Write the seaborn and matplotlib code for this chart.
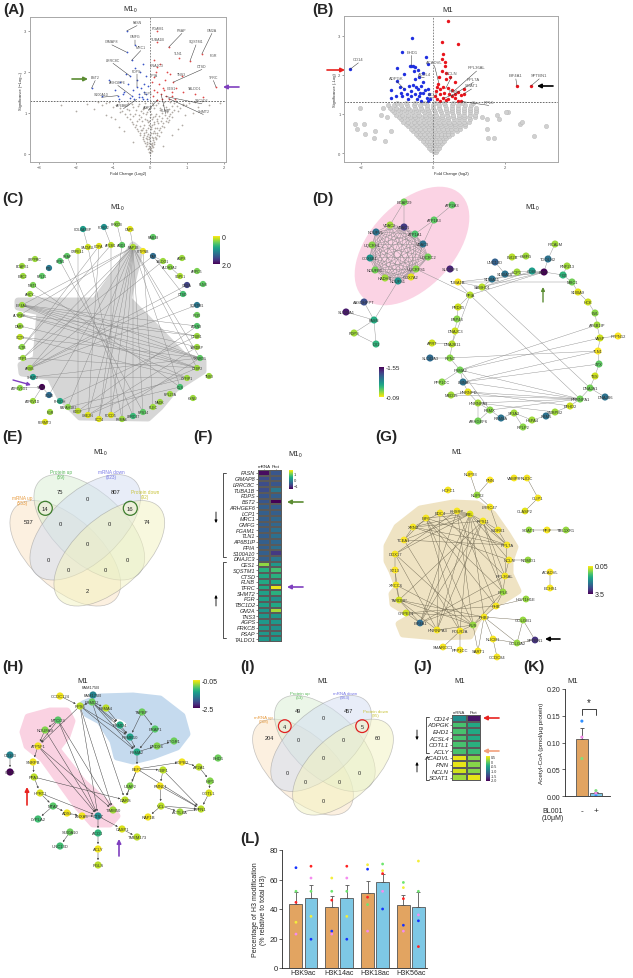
import numpy as np
import pandas as pd
import matplotlib.pyplot as plt
from matplotlib.patches import Ellipse, Polygon, Circle
from matplotlib.cm import ScalarMappable
from matplotlib.colors import Normalize
import itertools
import seaborn as sns

sns.set_theme(style='ticks')
plt.rcParams['font.family'] = ['Liberation Sans', 'DejaVu Sans']
plt.rcParams['axes.linewidth'] = 0.6

W, H = 633, 979

# ---------------- (A) volcano M1_0 ----------------
a_gray = [(0.01,0.02),(-0.03,0.05),(0.04,0.08),(-0.06,0.11),(0.02,0.13),(0.08,0.16),(-0.1,0.18),(-0.02,0.2),(0.05,0.22),(0.12,0.25),
          (-0.14,0.27),(-0.07,0.29),(0.0,0.31),(0.09,0.33),(0.17,0.35),(-0.2,0.36),(-0.12,0.38),(0.04,0.4),(0.13,0.42),(0.23,0.43),
          (-0.26,0.45),(-0.17,0.47),(-0.05,0.49),(0.07,0.5),(0.19,0.52),(0.3,0.54),(-0.33,0.55),(-0.22,0.57),(-0.1,0.59),(0.02,0.6),
          (0.14,0.62),(0.26,0.63),(0.39,0.65),(-0.41,0.66),(-0.28,0.68),(-0.15,0.7),(-0.03,0.71),(0.1,0.72),(0.22,0.74),(0.35,0.75),
          (0.48,0.77),(-0.5,0.78),(-0.36,0.8),(-0.21,0.81),(-0.07,0.83),(0.06,0.84),(0.19,0.86),(0.33,0.87),(0.47,0.88),(0.6,0.9),
          (-0.62,0.91),(-0.45,0.93),(-0.29,0.94),(-0.12,0.96),(0.03,0.97),(0.17,0.98),(0.31,1.0),(0.45,1.01),(0.6,1.02),(0.75,1.04),
          (-0.76,1.05),(-0.57,1.06),(-0.38,1.08),(-0.2,1.09),(-0.04,1.1),(0.12,1.12),(0.28,1.13),(0.43,1.14),(0.58,1.16),(0.74,1.17),
          (0.9,1.18),(-0.92,1.19),(-0.7,1.2),(-0.5,1.21),(-0.3,1.22),(-0.13,1.23),(0.05,1.24),(0.22,1.25),(0.39,1.26),(0.55,1.27),
          (0.71,1.28),(0.88,1.22),(1.05,1.25),(-1.1,1.26),(-0.85,1.27),(-1.3,1.2),(1.3,1.15),(-1.5,1.1),(-0.95,0.85),(0.85,0.7),
          (-0.7,0.55),(0.6,0.45),(-0.45,0.3),(0.35,0.2),(-0.03,0.35),(0.06,0.27),(-0.09,0.44),(0.1,0.56),(-0.18,0.64),(0.18,0.79),
          (-0.25,0.9),(0.26,1.06),(-0.33,1.16),(0.4,0.95),(-0.55,0.98),(0.52,0.83),(-1.2,0.95),(1.15,1.0),(-2.0,1.05),(1.6,1.2),
          (-0.01,0.15),(0.0,0.45),(0.03,0.66),(-0.06,0.77),(0.01,0.9),(-0.08,1.02),(0.09,1.19),(-0.16,1.13),(0.14,0.93),(-0.11,0.53),
          (0.0,0.04),(0.03,0.1),(-0.04,0.14),(0.06,0.19),(-0.07,0.23),(0.1,0.28),(-0.15,0.32),(0.15,0.38),(-0.2,0.41),(0.2,0.47),
          (-0.28,0.5),(0.25,0.58),(-0.35,0.61),(0.32,0.68),(-0.45,0.72),(0.42,0.8),(-0.55,0.84),(0.5,0.93),(-0.68,0.97),(0.66,1.08),
          (-0.82,1.12),(0.8,1.12),(-1.0,1.15),(0.98,1.2),(-1.18,1.24),(1.2,1.27),(-1.4,1.27),(-0.6,1.25),(-0.45,1.15),(-0.25,1.05),
          (-0.1,1.15),(0.0,1.05),(0.15,1.2),(0.35,1.2),(0.5,1.1),(0.65,1.23),(-0.8,1.02),(-0.62,1.1),(-0.4,0.98),(-0.18,0.99),
          (0.08,0.9),(0.25,0.93),(0.4,1.07),(0.55,0.98),(-0.05,0.63),(0.05,0.7),(-0.02,0.8),(0.12,0.77),(-0.14,0.86),(-0.3,0.85),
          (0.3,0.81),(-0.38,0.7),(0.2,0.64),(-0.25,0.58),(0.13,0.5),(-0.15,0.52),(0.08,0.38),(-0.08,0.36),(0.03,0.24),(-0.04,0.27),
          (0.02,0.5),(-0.02,0.42),(1.4,1.28),(-1.7,1.22),(-2.4,1.2),(1.9,1.25),(0.95,0.95),(-1.05,0.9),(0.75,0.6),(-0.85,0.65)]
a_down = [(-0.63,3.0),(-0.4,2.66),(-0.63,2.48),(-0.5,2.28),(-0.54,1.9),(-0.36,1.63),(-1.58,1.6),(-0.5,1.42),(-0.87,1.42),(-1.31,1.42),
          (-0.72,1.45),(-0.3,1.38),(-0.2,1.35),(-0.15,1.5),(-0.1,1.45),(-0.25,1.6),(-0.45,1.55),(-0.6,1.7),(-0.8,1.75),(-0.35,1.8),
          (-0.28,2.0),(-0.12,1.9),(-0.05,1.65),(-0.18,2.2),(-0.4,2.1),(-0.7,1.5),(-0.95,1.55),(-1.1,1.8),(-0.22,1.38),(-0.08,1.33),
          (-0.3,1.45),(-0.55,1.36),(-0.65,1.95),(-0.42,1.33),(-0.85,1.35),(-0.15,1.7)]
a_up = [(0.19,3.0),(0.18,2.73),(0.5,2.6),(1.4,2.44),(1.08,2.27),(0.77,2.35),(0.18,2.13),(0.63,1.75),(0.1,1.87),(0.85,1.9),
        (1.78,1.63),(0.58,1.52),(1.21,1.45),(0.42,1.4),(1.44,1.38),(0.2,1.32),(0.3,1.45),(0.12,1.55),(0.25,1.7),(0.4,1.8),
        (0.15,2.0),(0.35,1.6),(0.5,1.35),(0.6,1.42),(0.7,1.6),(0.08,1.4),(0.28,2.2),(0.45,2.0),(0.05,1.75),(0.2,1.5),
        (0.32,1.33),(0.55,1.95),(0.9,1.5),(0.1,2.3),(0.38,1.55),(0.68,1.35)]
a_labels = [('FASN',-0.35,3.17,-0.63,3.0),('PGAM1',0.2,3.02,0.19,3.0),('TUBA1B',0.22,2.75,0.18,2.73),('PSAP',0.86,2.98,0.5,2.6),
            ('GM2A',1.67,2.98,1.4,2.44),('GMFG',-0.4,2.83,-0.4,2.66),('GIMAP8',-1.03,2.7,-0.63,2.48),('SQSTM1',1.24,2.7,1.08,2.27),
            ('MRC1',-0.25,2.56,-0.5,2.28),('TLN1',0.77,2.42,0.77,2.42),('FGR',1.71,2.36,1.71,2.36),('LRRC8C',-1.0,2.25,-0.54,1.9),
            ('DNAJC3',0.18,2.13,0.18,2.13),('CTSD',1.4,2.1,0.63,1.75),('FDPS',-0.36,1.98,-0.36,1.63),('BST2',-1.48,1.83,-1.58,1.6),
            ('PPIA',0.1,1.87,0.1,1.87),('TNS3',0.85,1.9,0.85,1.9),('TFRC',1.71,1.83,1.78,1.63),('ARHGEF6',-0.87,1.71,-0.5,1.42),
            ('CES1',0.58,1.57,0.58,1.57),('TALDO1',1.21,1.55,1.21,1.55),('S100A10',-1.31,1.42,-0.87,1.42),('LCP1',-0.05,1.44,-0.05,1.44),
            ('TBC1D2',1.4,1.26,0.42,1.4),('AP6B1IP',-0.72,1.14,-0.36,1.33),('AGPS',-0.05,1.1,0.2,1.32),('FLNB',0.42,1.02,0.3,1.45),
            ('SHMT2',1.44,1.0,0.5,1.35)]

# ---------------- (B) volcano M1 ----------------
b_gray_levels = [0.03,0.08,0.14,0.2,0.26,0.32,0.38,0.44,0.5,0.56,0.62,0.68,0.74,0.8,0.86,0.92,0.98,1.04,1.1,1.16,1.22,1.27]
b_gray_xs = [[0.02,0.08],[-0.05,0.04,0.12],[-0.1,-0.01,0.07,0.16],[-0.16,-0.07,0.02,0.11,0.2],
             [-0.22,-0.12,-0.03,0.06,0.15,0.25],[-0.28,-0.18,-0.08,0.02,0.11,0.2,0.3,-1.33],
             [-0.35,-0.24,-0.13,-0.03,0.07,0.17,0.27,0.37,-1.63,1.53,1.69],[-0.41,-0.3,-0.19,-0.08,0.02,0.12,0.22,0.33,0.44,2.8],
             [-0.48,-0.36,-0.24,-0.12,-0.01,0.1,0.21,0.32,0.43,0.54,-1.89],
             [-0.55,-0.42,-0.3,-0.17,-0.05,0.06,0.18,0.3,0.42,0.54,0.66,-1.17,-1.61],
             [-0.6,-0.48,-0.35,-0.22,-0.1,0.02,0.14,0.27,0.39,0.51,0.63,0.76,1.5,-2.12],
             [-0.68,-0.55,-0.41,-0.28,-0.15,-0.02,0.1,0.23,0.36,0.49,0.62,0.75,0.88,3.13],
             [-0.76,-0.62,-0.48,-0.34,-0.2,-0.07,0.06,0.19,0.33,0.46,0.6,0.74,0.88,2.41,-1.91,-2.17],
             [-0.82,-0.68,-0.53,-0.39,-0.25,-0.11,0.03,0.17,0.31,0.45,0.59,0.73,0.87,1.01,2.47],
             [-0.88,-0.73,-0.58,-0.44,-0.29,-0.15,0.0,0.14,0.29,0.43,0.58,0.72,0.87,1.02,1.83,1.5],
             [-0.95,-0.8,-0.64,-0.49,-0.34,-0.19,-0.04,0.11,0.26,0.41,0.56,0.71,0.86,1.01,1.16,-1.29,1.36],
             [-1.02,-0.86,-0.7,-0.54,-0.38,-0.22,-0.07,0.09,0.24,0.4,0.55,0.71,0.86,1.02,1.18,-1.43,1.77],
             [-1.08,-0.91,-0.75,-0.59,-0.42,-0.26,-0.1,0.06,0.22,0.38,0.54,0.7,0.86,1.02,1.19,2.08,2.02],
             [-1.14,-0.97,-0.8,-0.63,-0.46,-0.3,-0.13,0.04,0.2,0.37,0.53,0.7,0.87,1.04,1.2],
             [-1.2,-1.03,-0.85,-0.68,-0.5,-0.33,-0.16,0.01,0.18,0.35,0.52,0.69,0.86,1.03,1.2,-2.03,-1.38],
             [-1.25,-1.07,-0.89,-0.71,-0.53,-0.36,-0.18,0.0,0.17,0.34,0.52,0.7,0.88,1.05],
             [-1.0,-0.75,-0.5,-0.25,0.05,0.3,0.55,0.8,1.1]]
b_down = [(-2.31,2.14),(-0.57,2.94),(-0.85,2.58),(-0.6,2.24),(-0.55,2.22),(-0.5,2.2),(-0.65,2.23),(-0.53,2.11),(-0.99,2.17),(-0.42,2.12),
          (-0.28,2.06),(-0.2,2.45),(-0.15,2.28),(-0.8,2.02),(-0.4,1.96),(-0.99,1.85),(-1.16,1.62),(-0.92,1.68),(-0.8,1.64),(-0.88,1.54),
          (-1.04,1.47),(-1.17,1.4),(-0.66,1.71),(-0.6,1.6),(-0.5,1.51),(-0.41,1.64),(-0.33,1.71),(-0.27,1.55),(-0.17,1.42),(-0.45,1.38),
          (-0.32,1.34),(-0.15,1.34),(-0.28,1.83),(-0.15,1.65),(-0.5,1.89),(-0.69,1.38),(-0.1,1.51),(-0.72,1.5),(-0.38,1.45),(-0.55,1.75),
          (-0.22,1.62),(-0.62,1.45),(-0.08,1.38),(-0.36,1.55),(-0.47,1.7),(-0.85,1.45)]
b_up = [(0.43,3.37),(0.24,2.85),(0.7,2.79),(0.28,2.53),(0.25,2.41),(0.33,2.32),(0.32,2.24),(0.25,2.11),(0.37,2.06),(0.16,1.94),
        (0.35,1.9),(0.47,1.96),(0.6,1.81),(0.1,1.68),(0.19,1.64),(0.08,1.6),(0.28,1.7),(0.42,1.67),(0.52,1.62),(0.6,1.52),
        (0.7,1.56),(0.78,1.48),(0.86,1.65),(0.86,1.52),(0.2,1.5),(0.29,1.42),(0.12,1.38),(0.42,1.38),(0.52,1.45),(0.2,1.33),
        (0.36,1.35),(0.6,1.4),(0.7,1.33),(0.78,1.33),(2.33,1.72),(2.72,1.72),(0.05,1.45),(0.15,1.78),(0.45,1.5),(0.3,1.55)]
b_labels = [('CD14',-2.07,2.35,-2.31,2.14),('EHD1',-0.59,2.54,-0.6,2.24),('ACADVL',0.04,2.28,0.16,1.8),('ACSL4',-0.24,1.97,-0.4,1.96),
            ('NCLN',0.52,2.0,0.35,1.65),('RPL36AL',1.21,2.14,0.6,1.6),('RPL7A',1.12,1.85,0.5,1.45),('SOAT1',1.07,1.68,0.86,1.52),
            ('ADPGK',-1.01,1.88,-0.8,1.64),('ACLY',0.0,1.45,-0.1,1.42),('PNN',0.56,1.54,0.3,1.4),('EIF4A1',2.3,1.94,2.33,1.72),
            ('SPTBN1',2.95,1.94,2.72,1.72),('RPL6',1.55,1.26,0.8,1.32)]

# ---------------- (C) network M1_0 ----------------
c_names = ['COL4A3BP','FCHO2','PRKCB','CAPG','GRPEL1','SACM1L','COPA','AP2M1','ADD1','RAP1B','PITPNB','RAB18','DAT','TALDO1',
           'AGPS','ALDH3A2','ARPC5','SGPL1','FLNB','GM2A','CTSD','SQSTM1','IFI35','ATXN3','OTUB1','TARDBP','TXNRD1','CTBP2',
           'TNS3','CYFIP1','GLS','KYNU','RPL23A','NADK','PLEC','RPS14','LRRC47','PSMA6','PDCD5','CCT4','UBE2N','HDGF',
           'PAFAH1B2','FGR','FERMT3','PHGDH','CD40','TFRC','ATP6V1D','ATP6V1G1','SHMT2','ARSB','STIP1','CLTB','CCT3','DARS',
           'ALYREF','EIF4A1','AHCY','NMT1','EMC2','RPL11','BCAP31','LRPPRC','FTL','RPN1','PSAP']
c_x = [83,104,117,130,78,88,99,111,122,133,143,153,153,163,182,170,197,180,203,187,183,197,197,197,197,197,200,197,
       209,187,180,193,170,160,153,143,133,122,111,99,88,78,68,50,45,60,49,42,33,20,33,30,23,22,20,20,20,22,30,33,23,42,22,35,49,60,67]
c_y = [230,228,225,230,252,248,247,246,246,248,252,238,257,262,259,268,272,277,285,286,295,306,316,327,337,348,359,369,
       377,379,388,399,395,403,408,413,417,420,416,420,416,412,408,413,423,402,396,388,402,389,378,369,359,348,338,327,
       316,306,295,286,277,277,267,260,269,262,257]
c_val = [0.9,1.0,0.35,0.1,0.2,0.15,0.1,0.2,0.5,0.25,0.05,0.5,1.3,0.3,0.3,0.35,0.4,0.25,0.5,1.6,0.6,1.2,0.45,0.55,0.3,0.3,0.5,0.3,
         0.3,0.3,0.6,0.3,0.3,0.3,0.3,0.5,0.65,0.3,0.1,0.1,0.1,0.2,0.35,0.3,0.1,0.8,1.3,2.0,0.3,0.35,0.9,0.3,0.3,0.35,0.2,0.3,
         0.3,0.3,0.3,0.4,0.3,0.5,0.3,0.3,1.2,0.55,0.5]
c_edges = [('RAP1B','EIF4A1'),('RAP1B','ALYREF'),('RAP1B','ARSB'),('RAP1B','STIP1'),('RAP1B','PSMA6'),('RAP1B','PDCD5'),
           ('RAP1B','CCT4'),('RAP1B','LRRC47'),('RAP1B','UBE2N'),('RAP1B','CTBP2'),('RAP1B','TXNRD1'),('RAP1B','GLS'),
           ('RAP1B','CD40'),('RAP1B','PAFAH1B2'),('RAP1B','RPS14'),('PITPNB','PLEC'),('DAT','CTSD'),('EIF4A1','TXNRD1'),
           ('EIF4A1','CTBP2'),('EIF4A1','OTUB1'),('EIF4A1','TARDBP'),('EIF4A1','CYFIP1'),('ALYREF','CTBP2'),('ALYREF','TXNRD1'),
           ('DARS','CTBP2'),('CCT3','TXNRD1'),('CCT3','CYFIP1'),('ARSB','GM2A'),('ARSB','CTSD'),('ARSB','SQSTM1'),
           ('ARSB','TALDO1'),('STIP1','CTBP2'),('STIP1','DAT'),('SHMT2','TXNRD1'),('SHMT2','CYFIP1'),('CLTB','AP2M1'),
           ('CLTB','COPA'),('NMT1','GLS'),('COPA','UBE2N'),('SACM1L','PSMA6'),('AP2M1','PDCD5'),('ADD1','CCT4'),
           ('GRPEL1','HDGF'),('PSAP','LRRC47'),('RPN1','RPS14'),('TFRC','ATP6V1D'),('TFRC','ATP6V1G1'),('TFRC','CD40'),
           ('CYFIP1','PAFAH1B2'),('GLS','HDGF'),('CTBP2','UBE2N'),('TXNRD1','PDCD5'),('ATXN3','HDGF'),('COL4A3BP','SACM1L'),
           ('FCHO2','AP2M1'),('PRKCB','ADD1'),('CAPG','RAP1B'),('OTUB1','PHGDH'),('TARDBP','UBE2N'),('SGPL1','ALDH3A2'),
           ('DAT','TALDO1'),('EIF4A1','ATXN3'),('AHCY','TXNRD1'),('ALYREF','OTUB1')]
c_hull = [(133,246),(140,252),(128,300),(185,358),(203,362),(203,372),(175,390),(160,408),(148,419),(80,418),(60,398),
          (50,378),(22,374),(21,366),(36,360),(40,313),(18,308),(18,302),(95,302),(118,270)]

# ---------------- (D) network M1_0 ----------------
d_names = ['BCAP29','ATP2A3','VDAC2','VDAC1','ATP1B3','NDUFV1','ATP1A1','UQCRHL','VDAC3','UQCRC2','COX6B1','SLC35F6',
           'NDUFB5','UQCRFS1','HADHB','COX7A2','NDUFS1','AASDHPPT','SLC25A1','FASN','FDPS','IDI1',
           'PICALM','TGOLN2','RNF213','EVI2B','GMFG','UNC13D','S100A10','LCP1','CD86','BST2','IFI35','MRC1','S100A11',
           'SAMHD1','TUBA1B','S100A9','HCK','EVL','AP6B1IP','PTPN12','VASP','TLN1','ZYX','TES','DNAJA1','DNAJB6',
           'HNRNPA1','EFHD2','SNRPB2','RBM5','HSPA4','RPLP2','SF3A2','RBM8A','RBMX','ARHGEF6','HNRNPA3','HNRNPD',
           'MED15','LMNA','PPP1CC','PSMA2','RPN2','SLC43A3','APRT','DNAJB11','DNAJC3','ERP44','PRDX5','PPIA']
d_x = [404,452,390,404,434,376,415,372,423,428,370,450,375,416,385,411,398,364,346,374,354,376,
       555,548,567,512,526,495,505,517,532,544,563,572,492,482,458,578,588,595,597,618,600,598,599,595,590,605,
       580,570,555,546,532,523,514,501,490,478,478,468,451,463,442,460,450,430,432,452,455,457,458,470]
d_y = [203,206,226,228,221,233,235,246,245,258,259,270,271,270,279,278,282,303,313,321,334,345,
       245,260,267,258,257,263,275,273,272,273,276,283,280,288,283,293,303,314,326,337,339,352,365,377,389,398,
       400,407,413,417,421,428,414,419,411,422,404,393,396,383,383,371,359,359,344,345,332,320,308,296]
d_val = [-0.4,-0.45,-0.3,-1.3,-0.45,-1.0,-0.5,-0.35,-1.0,-0.4,-0.8,-1.4,-0.4,-0.35,-0.3,-0.15,-0.8,-1.2,-1.45,-0.65,-0.3,-0.6,
         -0.3,-1.0,-0.3,-0.25,-0.3,-1.1,-1.0,-0.3,-0.75,-1.55,-0.6,-0.4,-1.0,-0.25,-0.1,-0.15,-0.2,-0.35,-0.3,-0.1,-0.2,-0.1,
         -0.45,-0.2,-0.4,-1.0,-0.4,-0.2,-0.3,-1.0,-0.3,-0.35,-0.3,-1.0,-0.35,-0.4,-0.3,-0.15,-0.3,-1.0,-0.35,-0.4,-0.35,-1.05,
         -0.2,-0.25,-0.2,-0.35,-0.2,-0.25]
d_core = ['VDAC2','VDAC1','NDUFV1','ATP1A1','UQCRHL','VDAC3','UQCRC2','COX6B1','NDUFB5','UQCRFS1','HADHB','COX7A2','NDUFS1']
d_edges = list(itertools.combinations(d_core, 2)) + [
    ('BCAP29','VDAC1'),('BCAP29','VDAC2'),('ATP2A3','ATP1B3'),('ATP1B3','ATP1A1'),('ATP1B3','VDAC3'),('UQCRFS1','PPIA'),
    ('NDUFS1','FASN'),('AASDHPPT','FASN'),('SLC25A1','FASN'),('FASN','FDPS'),('FDPS','IDI1'),('FASN','IDI1'),
    ('PICALM','TGOLN2'),('TGOLN2','BST2'),('EVI2B','GMFG'),('UNC13D','S100A10'),('S100A10','LCP1'),('LCP1','CD86'),
    ('CD86','BST2'),('BST2','IFI35'),('IFI35','MRC1'),('RNF213','IFI35'),('S100A11','SAMHD1'),('BST2','SAMHD1'),
    ('BST2','TUBA1B'),('BST2','PPIA'),('BST2','S100A11'),('CD86','SAMHD1'),('TUBA1B','PPIA'),('PPIA','PRDX5'),
    ('PRDX5','ERP44'),('ERP44','DNAJC3'),('DNAJC3','DNAJB11'),('DNAJB11','APRT'),('DNAJB11','RPN2'),('RPN2','SLC43A3'),
    ('RPN2','PSMA2'),('PSMA2','PPP1CC'),('PSMA2','LMNA'),('LMNA','HNRNPD'),('HNRNPD','MED15'),('HNRNPD','HNRNPA3'),
    ('HNRNPA3','RBMX'),('RBMX','RBM8A'),('RBM8A','SF3A2'),('SF3A2','HSPA4'),('HSPA4','RBM5'),('RBM5','SNRPB2'),
    ('SNRPB2','EFHD2'),('EFHD2','HNRNPA1'),('HNRNPA1','DNAJA1'),('DNAJA1','DNAJB6'),('DNAJA1','TES'),('TES','ZYX'),
    ('ZYX','TLN1'),('TLN1','VASP'),('VASP','PTPN12'),('VASP','AP6B1IP'),('AP6B1IP','EVL'),('EVL','HCK'),('HCK','S100A9'),
    ('S100A9','MRC1'),('RPLP2','SF3A2'),('ARHGEF6','RBMX'),('PPIA','HNRNPA1'),('SAMHD1','DNAJA1'),('PSMA2','AP6B1IP'),
    ('PSMA2','VASP'),('LMNA','ZYX'),('LMNA','TLN1'),('HNRNPA3','HNRNPA1'),('HNRNPD','HNRNPA1'),('RBMX','HNRNPA1'),
    ('HNRNPA3','SNRPB2'),('PSMA2','HNRNPA1'),('HNRNPD','EFHD2'),('LMNA','HNRNPA1'),('PSMA2','RBMX'),('TUBA1B','MRC1'),
    ('RPN2','TLN1'),('MED15','HNRNPA1'),('DNAJB11','PPIA'),('ARHGEF6','HNRNPA3'),('SAMHD1','TUBA1B')]

# ---------------- (E) / (I) Venn counts ----------------
venn_regions = ['A','B','C','D','AB','BC','CD','ABC','BCD','ABCD','AC','BD','ACD','ABD','AD']
e_counts = ['537','75','807','74','14','0','16','0','0','0','0','0','0','0','2']
i_counts = ['204','49','457','60','4','0','5','0','0','0','0','0','0','0','0']
e_set_labels = ['mRNA up\n(553)','Protein up\n(59)','mRNA down\n(823)','Protein down\n(92)']
i_set_labels = ['mRNA up\n(208)','Protein up\n(53)','mRNA down\n(463)','Protein down\n(95)']

# ---------------- (F) heatmap M1_0 ----------------
f_genes = ['FASN','GIMAP8','LRRC8C','TUBA1B','FDPS','BST2','ARHGEF6','LCP1','MRC1','GMFG','PGAM1','TLN1','AP6B1IP',
           'PPIA','S100A10','DNAJC3','CES1','SQSTM1','CTSD','FLNB','TFRC','SHMT2','FGR','TBC1D2','GM2A','TNS3','AGPS',
           'PRKCB','PSAP','TALDO1']
f_mrna = [-1.4,-0.8,-0.8,-0.8,-0.7,-0.7,-0.6,-0.6,-0.6,-0.6,-0.6,-0.6,-0.6,-0.6,-0.6,-0.6,1.0,0.4,0.3,0.3,0.3,0.2,0.2,
          0.2,0.1,0.1,0.1,0.1,0.1,0.1]
f_prot = [-0.7,-0.7,-0.7,-0.3,-0.6,-1.5,-0.6,-0.6,-0.5,-0.5,-0.4,-0.4,-0.5,-0.4,-1.0,-0.3,0.1,0.6,0.4,0.3,1.4,0.4,0.0,
          0.3,1.1,0.1,0.1,0.0,0.1,0.1]

# ---------------- (G) network M1 ----------------
g_names = ['NUP93','PNN','NUP62','HCFC1','VAMP8','NUDC','CLIP1','CLASP2','SOAT1','PPIF','TBL1XR1','NOMO1','NCLN','ACADVL',
           'ECHS1','LRRC47','FBL','RPS11','KHSRP','EDC4','EIF6','XRN2','WDR61','TCEA1','RPL7A','DDX17','ST13','XRCC6',
           'RPL36AL','RPL6','TARDBP','HIST1H1E','PHB','GRPEL1','PHB2','GOLGB1','EIF4A1','HNRNPA3','FUS','POLR2A','NUCB1',
           'GOLGA2','SPTBN1','SMARCC1','PPP1CC','SART1','CCDC84']
g_x = [470,490,477,448,514,527,538,525,529,547,566,528,509,550,550,490,470,483,457,440,426,413,498,404,507,395,395,396,
       505,503,399,526,496,406,484,523,420,437,473,460,493,517,535,443,460,478,497]
g_y = [475,481,496,491,479,479,499,512,531,531,531,561,561,573,589,508,515,522,512,514,519,528,531,541,546,555,571,586,
       577,593,601,600,607,614,618,621,624,631,626,632,640,644,641,648,651,652,658]
g_val = [0.1,0.05,0.6,0.1,0.1,0.1,0.1,0.2,0.6,0.1,0.6,0.6,0.1,0.05,0.1,0.1,0.2,0.1,0.1,0.1,0.1,0.1,0.1,0.05,0.1,0.1,0.05,
         0.1,0.1,0.6,0.3,0.6,0.1,0.3,0.1,0.6,2.3,0.1,0.6,0.1,0.1,0.6,3.0,0.1,0.1,0.1,0.1]
g_edges = [('FBL','EIF6'),('FBL','EDC4'),('FBL','KHSRP'),('FBL','RPS11'),('FBL','XRN2'),('FBL','TCEA1'),('FBL','DDX17'),
           ('FBL','HNRNPA3'),('FBL','POLR2A'),('FBL','PHB2'),('FBL','RPL7A'),('FBL','RPL6'),('FBL','NCLN'),('FBL','EIF4A1'),
           ('RPS11','RPL7A'),('RPS11','RPL36AL'),('RPS11','RPL6'),('RPS11','WDR61'),('RPS11','EIF4A1'),('RPS11','TARDBP'),
           ('RPS11','XRN2'),('RPS11','HNRNPA3'),('EIF6','RPL7A'),('EIF6','RPL6'),('EIF6','PHB'),('EIF6','FUS'),
           ('EIF6','POLR2A'),('EIF6','TCEA1'),('EDC4','XRN2'),('EDC4','HNRNPA3'),('KHSRP','FUS'),('KHSRP','DDX17'),
           ('KHSRP','EIF4A1'),('XRN2','RPL7A'),('TCEA1','POLR2A'),('TCEA1','RPL7A'),('DDX17','FUS'),('DDX17','HNRNPA3'),
           ('ST13','TARDBP'),('XRCC6','TARDBP'),('XRCC6','FUS'),('TARDBP','FUS'),('TARDBP','HNRNPA3'),('TARDBP','EIF4A1'),
           ('GRPEL1','PHB2'),('GRPEL1','PHB'),('EIF4A1','RPL6'),('EIF4A1','RPL36AL'),('HNRNPA3','FUS'),('POLR2A','FUS'),
           ('FUS','PHB2'),('PHB2','PHB'),('PHB','RPL6'),('RPL6','RPL36AL'),('RPL36AL','RPL7A'),('RPL7A','WDR61'),
           ('NCLN','RPL36AL'),('WDR61','LRRC47'),('LRRC47','NUP62'),('NUP62','NUP93'),('NUP62','PNN'),('NCLN','NOMO1'),
           ('SOAT1','PPIF'),('PPIF','TBL1XR1'),('VAMP8','NUDC'),('NUDC','CLIP1'),('CLIP1','CLASP2'),('ACADVL','ECHS1'),
           ('GOLGB1','GOLGA2'),('GOLGB1','SPTBN1'),('GOLGA2','SPTBN1'),('NUCB1','GOLGA2'),('PHB2','NUCB1'),('PHB2','GOLGB1'),
           ('PHB','HIST1H1E'),('PHB2','GOLGA2'),('SMARCC1','POLR2A'),('PPP1CC','POLR2A'),('SART1','PHB2'),('SART1','FUS'),
           ('CCDC84','NUCB1'),('GRPEL1','EIF4A1'),('FUS','RPL6'),('TARDBP','PHB2'),('TCEA1','XRN2'),('ST13','DDX17'),
           ('ST13','XRCC6'),('XRN2','NCLN'),('EDC4','RPL36AL'),('KHSRP','PHB')]
g_blob = [(387,547),(397,528),(420,510),(453,504),(477,505),(493,515),(507,535),(515,548),(510,562),(510,575),(518,592),
          (507,599),(487,610),(477,622),(470,637),(437,638),(403,635),(399,625),(413,617),(393,605),(392,595),(398,588),
          (392,572),(387,562)]

# ---------------- (H) network M1 ----------------
h_names = ['FAM175B','CCDC124','RPS6','PSMD2','PSMA4','MTCO3','NDUFA9','PSMD4','TAPBP','ERAP1','PSMB10','PSMA2','PRDX6',
           'PTGR1','ATP5F1','SNRPB','EEF2','GBF1','COPB2','AP2A1','EHD1','PPA1','U2AF2','FMNL1','HIP1','CD163','CD14',
           'HPRT1','DARS','COTL1','MTAP','VCL','TIMM50','PFN1','ADSL','ANXA5','CTSZ','ACTL6A','LYPLA2','RAP1B','CASP1',
           'TMEM173','S100A10','ACO1','UNC13D','ACLY','PGLS']
h_x = [93,60,80,92,106,58,45,120,142,155,130,137,157,174,38,33,137,163,182,199,218,34,130,160,210,10,10,40,125,209,53,161,
       113,201,67,82,98,180,38,148,122,137,70,98,60,98,98]
h_y = [696,697,707,703,709,721,731,726,713,730,738,753,747,742,747,763,770,771,763,768,759,778,787,787,782,756,773,794,
       801,794,807,807,811,810,814,817,817,813,820,818,830,838,833,834,847,850,866]
h_val = [-1.4,-0.1,-0.3,-0.6,-0.3,-0.7,-0.5,-1.0,-0.6,-0.7,-1.1,-1.0,-0.5,-0.6,-0.1,-0.1,-0.05,-0.3,-0.1,-0.3,-0.6,-0.3,
         -0.5,-0.1,-0.5,-1.4,-2.5,-0.2,-0.3,-0.2,-0.7,-0.3,-0.4,-0.3,-0.1,-0.1,-1.3,-0.4,-0.8,-0.1,-0.2,-0.3,-0.6,-0.9,-0.8,
         -0.1,-0.3]
h_edges = [('FAM175B','PSMD2'),('CCDC124','RPS6'),('RPS6','PSMD2'),('PSMD2','PSMA4'),('PSMD2','PSMB10'),('PSMD2','PSMA2'),
           ('PSMD2','PSMD4'),('RPS6','PSMA2'),('RPS6','PSMB10'),('PSMA4','PSMD4'),('PSMD4','PSMB10'),('TAPBP','ERAP1'),
           ('TAPBP','PSMB10'),('ERAP1','PSMA2'),('PSMB10','PSMA2'),('PRDX6','PTGR1'),('PSMA2','PRDX6'),('PSMA2','EEF2'),
           ('RPS6','CTSZ'),('MTCO3','NDUFA9'),('MTCO3','ATP5F1'),('MTCO3','CTSZ'),('NDUFA9','ATP5F1'),('ATP5F1','CTSZ'),
           ('ATP5F1','TIMM50'),('NDUFA9','CTSZ'),('ATP5F1','SNRPB'),('SNRPB','PPA1'),('PPA1','HPRT1'),('PPA1','DARS'),
           ('HPRT1','MTAP'),('HPRT1','CTSZ'),('MTAP','LYPLA2'),('MTAP','ADSL'),('ADSL','ANXA5'),('ANXA5','CTSZ'),
           ('CTSZ','ACO1'),('S100A10','UNC13D'),('ACO1','ACLY'),('CTSZ','CASP1'),('CASP1','TMEM173'),('EEF2','U2AF2'),
           ('U2AF2','DARS'),('EEF2','GBF1'),('EEF2','COPB2'),('EEF2','DARS'),('GBF1','FMNL1'),('COPB2','AP2A1'),
           ('AP2A1','HIP1'),('HIP1','COTL1'),('COTL1','PFN1'),('FMNL1','VCL'),('FMNL1','PFN1'),('VCL','PFN1'),
           ('VCL','ACTL6A'),('VCL','RAP1B'),('ACTL6A','PFN1'),('GBF1','PFN1'),('CD163','CD14'),('RPS6','ATP5F1'),
           ('PSMD2','DARS'),('MTCO3','TIMM50'),('EEF2','PFN1'),('ACLY','PGLS'),('RPS6','TIMM50')]
h_pink = [(23,733),(28,718),(50,712),(67,712),(72,722),(67,737),(57,750),(83,783),(110,807),(117,817),(110,825),(93,825),
          (77,807),(43,760),(27,747)]
h_blue = [(83,705),(100,698),(133,697),(160,700),(182,717),(187,735),(177,748),(153,757),(133,762),(117,758),(113,742),
          (100,722),(87,715)]

# ---------------- (J) heatmap M1 ----------------
j_genes = ['CD14','ADPGK','EHD1','ACSL4','COTL1','ACLY','ACADVL','PNN','NCLN','SOAT1']
j_mrna = [-0.8,-0.2,-0.2,-0.2,-0.2,-0.2,0.5,0.5,0.4,0.2]
j_prot = [-2.0,-0.5,-0.5,-0.5,-0.4,-0.3,0.1,0.1,0.1,0.5]

# ---------------- (K) acetyl-CoA ----------------
k_treat = ['-', '+']
k_reps = [[0.14, 0.11, 0.07], [0.01, 0.005, 0.0]]
k_rep_colors = [['#2f8fff', '#f08ae8', '#7ee07e'], ['#7ee07e', '#f08ae8', '#2f8fff']]

# ---------------- (L) H3 acetylation ----------------
l_marks = ['H3K9ac', 'H3K14ac', 'H3K18ac', 'H3K56ac']
l_conds = ['ctrl', 'BL001']
l_ctrl = [[68, 52, 44.5, 31, 23], [61, 52, 46, 25, 23], [70, 67, 48, 43, 25], [58, 54.5, 47, 29, 25]]
l_bl = [[69, 61, 52, 35, 19.5], [69, 61, 52, 35, 19.5], [70.5, 66, 64, 52, 40], [72.5, 52, 36, 32, 14.5]]
l_ctrl_colors = [['#1533ff','#6fe56f','#ff2222','#f3ee3a','#f58cf0'], ['#f3ee3a','#6fe56f','#ff2222','#1533ff','#f58cf0'],
                 ['#f3ee3a','#1533ff','#ff2222','#6fe56f','#f58cf0'], ['#6fe56f','#f3ee3a','#ff2222','#1533ff','#f58cf0']]
l_bl_colors = [['#ff2222','#f58cf0','#6fe56f','#f3ee3a','#1533ff'], ['#ff2222','#f58cf0','#6fe56f','#f3ee3a','#1533ff'],
               ['#6fe56f','#f3ee3a','#ff2222','#f58cf0','#1533ff'], ['#f3ee3a','#6fe56f','#f58cf0','#1533ff','#ff2222']]

ORANGE = '#f7a54c'
SKY = '#6dcff6'

fig = plt.figure(figsize=(W / 100, H / 100), dpi=100)


def px_axes(x0, y0, x1, y1):
    return fig.add_axes([x0 / W, 1 - y1 / H, (x1 - x0) / W, (y1 - y0) / H])


ov = px_axes(0, 0, W, H)
ov.set_xlim(0, W)
ov.set_ylim(H, 0)
ov.axis('off')
ov.set_zorder(5)


def arrow(tail, head, color, lw=1.2, ms=6):
    ov.annotate('', xy=head, xytext=tail,
                arrowprops=dict(arrowstyle='-|>', color=color, lw=lw, mutation_scale=ms, shrinkA=0, shrinkB=0))


def colorbar(x0, y0, x1, y1, cmap, vmin, vmax, ticks, labels, invert=False, fs=4.5):
    cax = px_axes(x0, y0, x1, y1)
    cb = fig.colorbar(ScalarMappable(norm=Normalize(vmin, vmax), cmap=cmap), cax=cax)
    cb.set_ticks(ticks)
    cb.set_ticklabels(labels)
    cb.outline.set_visible(False)
    cax.tick_params(labelsize=fs, length=0, pad=1)
    if invert:
        cax.invert_yaxis()


def draw_net(names, xs, ys, vals, edges, cmap, vmin, vmax, size, ecol, arrows=False, fs=3.0):
    idx = {n: i for i, n in enumerate(names)}
    for a, b in edges:
        i, j = idx[a], idx[b]
        if arrows:
            ov.annotate('', xy=(xs[j], ys[j]), xytext=(xs[i], ys[i]), zorder=2,
                        arrowprops=dict(arrowstyle='-|>', color=ecol, lw=0.35, mutation_scale=2.5,
                                        shrinkA=2.5, shrinkB=3.5))
        else:
            ov.plot([xs[i], xs[j]], [ys[i], ys[j]], color=ecol, lw=0.3, zorder=2)
    ov.scatter(xs, ys, c=vals, cmap=cmap, vmin=vmin, vmax=vmax, s=size, linewidths=0, zorder=3)
    for n, x, y in zip(names, xs, ys):
        ov.text(x, y, n, fontsize=fs, ha='center', va='center', color='#333333', zorder=4)


def style_volcano(ax):
    for s in ax.spines.values():
        s.set_color('#a8a8a8')
        s.set_linewidth(0.7)
    ax.tick_params(labelsize=3, length=1.5, width=0.4, colors='#555555', pad=1)
    ax.axvline(0, color='#777777', lw=0.6, ls=(0, (2, 1.5)))
    ax.axhline(1.3, color='#555555', lw=0.6, ls=(0, (2, 1.5)))


def volcano_labels(ax, labels, fs):
    for g, lx, ly, px, py in labels:
        if abs(lx - px) + abs(ly - py) > 0.1:
            ax.plot([lx, px], [ly - 0.04, py], color='#333333', lw=0.35)
        ax.text(lx, ly, g, fontsize=fs, ha='center', va='bottom', color='#555555')


# ---- (A)
axA = px_axes(30, 18, 226, 163)
sns.scatterplot(x=[p[0] for p in a_gray], y=[p[1] for p in a_gray], ax=axA, s=1.6, color='#b0aaa4', linewidth=0, legend=False)
sns.scatterplot(x=[p[0] for p in a_down], y=[p[1] for p in a_down], ax=axA, s=1.6, color='#3a55c8', linewidth=0, legend=False)
sns.scatterplot(x=[p[0] for p in a_up], y=[p[1] for p in a_up], ax=axA, s=1.6, color='#e04848', linewidth=0, legend=False)
axA.set_xlim(-3.24, 2.05)
axA.set_ylim(-0.2, 3.34)
axA.set_xticks([-3, -2, -1, 0, 1, 2])
axA.set_yticks([0, 1, 2, 3])
style_volcano(axA)
volcano_labels(axA, a_labels, 2.6)
axA.set_xlabel('Fold Change (Log2)', fontsize=3, labelpad=1)
axA.set_ylabel('Significance (\u2212Log\u2081\u2080)', fontsize=3, labelpad=1)

# ---- (B)
axB = px_axes(344, 17, 558, 163)
bgx = [x for xs in b_gray_xs for x in xs]
bgy = [lv for lv, xs in zip(b_gray_levels, b_gray_xs) for _ in xs]
sns.scatterplot(x=bgx, y=bgy, ax=axB, s=10, color='#d0d0d0', edgecolor='#b0b0b0', linewidth=0.25, legend=False)
sns.scatterplot(x=[p[0] for p in b_down], y=[p[1] for p in b_down], ax=axB, s=6, color='#1f2fe0', linewidth=0, legend=False)
sns.scatterplot(x=[p[0] for p in b_up], y=[p[1] for p in b_up], ax=axB, s=6, color='#e8141c', linewidth=0, legend=False)
axB.set_xlim(-2.47, 3.47)
axB.set_ylim(-0.23, 3.51)
axB.set_xticks([-2, 0, 2])
axB.set_yticks([0, 1, 2, 3])
style_volcano(axB)
volcano_labels(axB, b_labels, 3.0)
axB.set_xlabel('Fold Change (log2)', fontsize=3, labelpad=1)
axB.set_ylabel('Significance (-Log)', fontsize=3, labelpad=1)

# ---- (C)
ov.add_patch(Polygon(c_hull, closed=True, facecolor='#d6d6d6', edgecolor='#d6d6d6', lw=5, joinstyle='round', zorder=1))
draw_net(c_names, c_x, c_y, c_val, c_edges, 'viridis_r', 0, 2.0, 20, '#8a8a8a', fs=2.5)
colorbar(213, 237, 220, 265, 'viridis_r', 0, 2.0, [0, 2.0], ['0', '2.0'], invert=True, fs=5)

# ---- (D)
ov.add_patch(Ellipse((412, 247), 142, 84, angle=-47, facecolor='#fbd3e4', edgecolor='none', zorder=1))
draw_net(d_names, d_x, d_y, d_val, d_edges, 'viridis', -1.55, -0.09, 26, '#8a8a8a', fs=2.9)
colorbar(379, 368, 384, 398, 'viridis', -1.55, -0.09, [-1.55, -0.09], ['-1.55', '-0.09'], invert=True, fs=4.5)


# ---- (E) & (I) Venn
def venn4(cx, cy, s, counts, set_labels, ring_regions, ring_color, cfs, lfs):
    geo = [(-22, 10, 42.6, '#fbe2c2'), (2, -16, 42.6, '#d9eed3'), (-2, -16, -42.6, '#d2ddf2'), (22, 10, -42.6, '#f3f2bf')]
    for dx, dy, ang, col in geo:
        ov.add_patch(Ellipse((cx + dx * s, cy + dy * s), 136 * s, 70 * s, angle=ang, facecolor=col, alpha=0.5,
                             edgecolor='#8c8c8c', lw=0.5, zorder=1))
    offs = {'A': (-59, -22), 'B': (-27, -52), 'C': (28, -52), 'D': (60, -22), 'AB': (-42, -35), 'BC': (0, -45),
            'CD': (43, -35), 'ABC': (-27, -20), 'BCD': (22, -20), 'ABCD': (0, 0), 'AC': (-39, 16), 'BD': (40, 16),
            'ACD': (-19, 26), 'ABD': (18, 26), 'AD': (0, 47)}
    for r, c in zip(venn_regions, counts):
        x, y = cx + offs[r][0] * s, cy + offs[r][1] * s
        ov.text(x, y, c, fontsize=cfs, ha='center', va='center', color='#222222', zorder=3)
        if r in ring_regions:
            ov.add_patch(Circle((x, y), 7 * s, facecolor='none', edgecolor=ring_color, lw=0.9, zorder=3))
    lpos = [(-65, -43), (-26, -69), (24, -69), (58, -49)]
    lcol = ['#e89a3c', '#5cb85c', '#7a7ae6', '#c9c43c']
    for (dx, dy), t, c in zip(lpos, set_labels, lcol):
        ov.text(cx + dx * s, cy + dy * s, t, fontsize=lfs, ha='center', va='center', color=c, zorder=3, linespacing=1.0)


venn4(87.3, 544.3, 1.0, e_counts, e_set_labels, ['AB', 'CD'], '#3d7d2c', 4.2, 3.4)
venn4(323, 759, 0.91, i_counts, i_set_labels, ['AB', 'CD'], '#e02020', 4.0, 3.2)

# ---- (F) heatmap
axF = px_axes(258, 471, 282, 643)
cbF = px_axes(289, 471, 293, 490)
dfF = pd.DataFrame({'mRNA': f_mrna, 'Prot': f_prot}, index=f_genes)
sns.heatmap(dfF, ax=axF, cmap='viridis', vmin=-1.5, vmax=1.5, cbar_ax=cbF, linewidths=0.25, linecolor='#5a5a5a',
            xticklabels=True, yticklabels=True)
axF.xaxis.tick_top()
axF.tick_params(axis='x', labelsize=3.2, length=1, width=0.4, pad=0.5, rotation=0)
axF.tick_params(axis='y', labelsize=4.0, length=1.5, width=0.4, pad=0.5, rotation=0)
for t in axF.get_yticklabels():
    t.set_fontstyle('italic')
axF.set_ylabel('')
cbF.tick_params(labelsize=3, length=0, pad=0.5)
cbF.set_yticks([1, 0, -1])
cbF.set_yticklabels(['1', '0', '\u22121'])

# ---- (G)
ov.add_patch(Polygon(g_blob, closed=True, facecolor='#efe3c3', edgecolor='#efe3c3', lw=5, joinstyle='round', zorder=1))
draw_net(g_names, g_x, g_y, g_val, g_edges, 'viridis_r', 0.05, 3.5, 24, '#6e6650', fs=3.0)
colorbar(588, 567, 593, 595, 'viridis_r', 0.05, 3.5, [0.05, 3.5], ['0.05', '3.5'], invert=True, fs=5)

# ---- (H)
ov.add_patch(Polygon(h_pink, closed=True, facecolor='#fad2e2', edgecolor='#fad2e2', lw=5, joinstyle='round', zorder=1))
ov.add_patch(Polygon(h_blue, closed=True, facecolor='#c5daee', edgecolor='#c5daee', lw=5, joinstyle='round', zorder=1))
ov.add_patch(Ellipse((119, 724), 16, 7, angle=20, facecolor='white', edgecolor='none', zorder=1))
draw_net(h_names, h_x, h_y, h_val, h_edges, 'viridis', -2.5, -0.05, 27, '#444444', arrows=True, fs=3.0)
colorbar(193, 681, 200, 709, 'viridis', -2.5, -0.05, [-0.05, -2.5], ['-0.05', '-2.5'], fs=5)

# ---- (J) heatmap
axJ = px_axes(452, 716, 481, 782)
cbJ = px_axes(486, 757, 490, 782)
dfJ = pd.DataFrame({'mRNA': j_mrna, 'Prot': j_prot}, index=j_genes)
sns.heatmap(dfJ, ax=axJ, cmap='viridis', vmin=-2.15, vmax=0.6, cbar_ax=cbJ, linewidths=0.25, linecolor='#5a5a5a',
            xticklabels=True, yticklabels=True)
axJ.xaxis.tick_top()
axJ.tick_params(axis='x', labelsize=3.0, length=0, pad=0.5, rotation=0)
axJ.tick_params(axis='y', labelsize=4.5, length=1.5, width=0.4, pad=0.5, rotation=0)
for t in axJ.get_yticklabels():
    t.set_fontstyle('italic')
axJ.set_ylabel('')
cbJ.set_yticks([0.5, 0, -0.5, -1.0, -1.5, -2.0])
cbJ.set_yticklabels(['0.5', '0', '-0.5', '-1.0', '-1.5', '-2.0'])
cbJ.tick_params(labelsize=2.6, length=0, pad=0.5)

# ---- (K) bar
axK = px_axes(565, 690, 610, 797)
dfK = pd.DataFrame({'treat': [t for t, r in zip(k_treat, k_reps) for _ in r], 'value': [v for r in k_reps for v in r]})
sns.barplot(data=dfK, x='treat', y='value', hue='treat', order=k_treat, palette=[ORANGE, SKY], errorbar=None,
            width=0.8, edgecolor='#555555', linewidth=0.6, legend=False, ax=axK)
for i, (reps, cols) in enumerate(zip(k_reps, k_rep_colors)):
    m, se = np.mean(reps), pd.Series(reps).sem()
    axK.errorbar(i, m, yerr=[[0], [se]], color='#444444', lw=0.6, capsize=1.5, capthick=0.6)
    axK.scatter([i] * len(reps), reps, c=cols, s=5, linewidths=0, zorder=4)
axK.plot([0, 0, 1, 1], [0.151, 0.163, 0.163, 0.151], color='#222222', lw=0.6)
axK.text(0.5, 0.166, '*', ha='center', va='bottom', fontsize=7)
axK.set_xlim(-1.2, 2.0)
axK.set_ylim(0, 0.2)
axK.set_yticks([0, 0.05, 0.10, 0.15, 0.20])
axK.set_yticklabels(['0.00', '0.05', '0.10', '0.15', '0.20'])
axK.tick_params(axis='y', labelsize=5, length=2, width=0.5, pad=1)
axK.tick_params(axis='x', labelsize=6, length=0, pad=8)
axK.set_xlabel('')
axK.set_ylabel('Acetyl-CoA (pmol/\u03bcg protein)', fontsize=4.6, labelpad=2)
sns.despine(ax=axK)

# ---- (L) bar
axL = px_axes(282, 851, 427, 969)
rows = []
for mk, c_vals, b_vals in zip(l_marks, l_ctrl, l_bl):
    rows += [(mk, 'ctrl', v) for v in c_vals] + [(mk, 'BL001', v) for v in b_vals]
dfL = pd.DataFrame(rows, columns=['mark', 'cond', 'value'])
sns.barplot(data=dfL, x='mark', y='value', hue='cond', order=l_marks, hue_order=l_conds, palette=[ORANGE, SKY],
            errorbar=None, width=0.84, gap=0.14, edgecolor='#555555', linewidth=0.6, legend=False, ax=axL)
bars = sorted(axL.patches, key=lambda p: p.get_x())
sem = dfL.groupby(['mark', 'cond'])['value'].agg(['mean', 'sem'])
rep_sets, col_sets, keys = [], [], []
for mk, cv, bv, cc, bc in zip(l_marks, l_ctrl, l_bl, l_ctrl_colors, l_bl_colors):
    rep_sets += [cv, bv]
    col_sets += [cc, bc]
    keys += [(mk, 'ctrl'), (mk, 'BL001')]
for p, reps, cols, key in zip(bars, rep_sets, col_sets, keys):
    xc = p.get_x() + p.get_width() / 2
    axL.errorbar(xc, sem.loc[key, 'mean'], yerr=[[0], [sem.loc[key, 'sem']]], color='#555555', lw=0.6,
                 capsize=1.5, capthick=0.6)
    axL.scatter([xc] * len(reps), reps, c=cols, s=4, linewidths=0, zorder=4)
axL.set_ylim(0, 80)
axL.set_xlim(-0.6, 3.45)
axL.set_yticks([0, 20, 40, 60, 80])
axL.tick_params(axis='y', labelsize=5.5, length=2, width=0.5, pad=1)
axL.tick_params(axis='x', labelsize=5.1, length=0, pad=1)
axL.set_xlabel('')
axL.set_ylabel('Percentage of H3 modification\n(% relative to total H3)', fontsize=5, labelpad=2)
sns.despine(ax=axL)

# ---- brackets / arrows for heatmaps
for yy in [(474, 558), (563, 639)]:
    ov.plot([226, 223, 223, 226], [yy[0], yy[0], yy[1], yy[1]], color='#333333', lw=0.6)
arrow((216, 513), (216, 524), 'black', lw=0.6, ms=4)
arrow((216, 607), (216, 596), 'black', lw=0.6, ms=4)
for yy in [(718, 754), (758, 781)]:
    ov.plot([429, 426, 426, 429], [yy[0], yy[0], yy[1], yy[1]], color='#333333', lw=0.6)
arrow((417, 731), (417, 741), 'black', lw=0.6, ms=4)
arrow((417, 773), (417, 763), 'black', lw=0.6, ms=4)

GREEN, PURPLE, RED = '#5b8c32', '#7f3fbf', '#e8221f'
arrow((72, 80), (88, 80), GREEN)
arrow((239, 88), (223, 88), PURPLE)
arrow((327, 71), (345, 71), RED)
arrow((553, 87), (537, 87), 'black')
arrow((13, 381), (31, 386), PURPLE, lw=1.0, ms=5)
arrow((543, 303), (543, 288), GREEN, lw=1.0, ms=5)
arrow((303, 503), (287, 503), GREEN)
arrow((303, 588), (287, 588), PURPLE)
arrow((560, 640), (545, 640), 'black')
arrow((27, 806), (27, 788), RED)
arrow((119, 857), (119, 840), PURPLE)
arrow((499, 719), (483, 719), RED)
arrow((499, 752), (483, 752), '#f2a07c')

# ---- panel labels and titles
for lab, x, y in [('(A)', 3, 3), ('(B)', 312, 3), ('(C)', 2, 192), ('(D)', 312, 192), ('(E)', 2, 430), ('(F)', 193, 430),
                  ('(G)', 375, 430), ('(H)', 2, 660), ('(I)', 240, 660), ('(J)', 413, 660), ('(K)', 523, 660),
                  ('(L)', 240, 832)]:
    ov.text(x, y, lab, fontsize=11, fontweight='bold', ha='left', va='top')
for t, x, y in [('M1\u2080', 130, 10), ('M1', 448, 10), ('M1\u2080', 117, 207), ('M1\u2080', 532, 207),
                ('M1\u2080', 100, 453), ('M1\u2080', 295, 455), ('M1', 457, 453), ('M1', 83, 682), ('M1', 323, 682),
                ('M1', 460, 682), ('M1', 573, 682)]:
    ov.text(x, y, t, fontsize=5.5, ha='center', va='center')
ov.text(91, 688, 'FAM175B', fontsize=3, ha='center', va='center', color='#333333')
ov.text(553, 815, 'BL001\n(10\u03bcM)', fontsize=5, ha='center', va='center', linespacing=1.1)

fig.savefig('out.png', dpi=100)
